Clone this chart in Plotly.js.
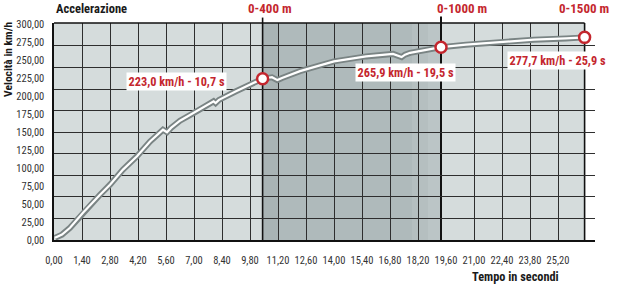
<!DOCTYPE html>
<html>
<head>
<meta charset="utf-8">
<script src="https://cdn.plot.ly/plotly-3.0.1.min.js"></script>
<style>html,body{margin:0;padding:0;background:#fff;}#chart{width:630px;height:297px;}</style>
</head>
<body>
<div id="chart"></div>
<script>
// ---- data ----
const timeS = [0.05,0.4,0.8,1.45,2.3,2.8,3.45,4.15,4.8,5.45,5.65,5.85,6.3,7.0,7.8,7.98,8.08,8.25,9.1,9.8,10.43,10.9,11.17,11.4,12.3,13.3,14.0,15.6,16.95,17.38,17.55,17.8,19.35,20.6,22.3,24.0,25.6,26.53];
const speedKmh = [3,7.5,17,38,63,77,98,116.5,137,153.5,150,156,166,177,190.5,193,190.5,195,207,216,224.5,226.5,222.5,225.5,235,243,248.6,255.5,259,254.5,258,260.5,268.3,271.8,275.6,278.8,280.5,282];
const markTime = [10.43, 19.35, 26.53];
const markSpeed = [224.5, 268.3, 282];
const markLabels = ["223,0 km/h - 10,7 s", "265,9 km/h - 19,5 s", "277,7 km/h - 25,9 s"];
const distLabels = ["0-400 m", "0-1000 m", "0-1500 m"];
const xTicks = [0,1.4,2.8,4.2,5.6,7.0,8.4,9.8,11.2,12.6,14.0,15.4,16.8,18.2,19.6,21.0,22.4,23.8,25.2];
const yTicks = [0,25,50,75,100,125,150,175,200,225,250,275,300];
const xGrid = [1.4,2.8,4.2,5.6,7.0,8.4,9.8,11.2,12.6,14.0,15.4,16.8,18.2,21.0,22.4,23.8,25.2];
const yGrid = [30,60,90,120,150,180,210,240,270];

const RED = '#c4262e';
const FONT = '"Roboto Condensed", "Liberation Sans Narrow", "DejaVu Sans Condensed", sans-serif';
const xRange = [0, 27.05];
const yRange = [0, 302];

const traces = [
  {x: [], y: [], xaxis: 'x2', yaxis: 'y2', type: 'scatter', mode: 'lines', showlegend: false, hoverinfo: 'skip'},
  {x: timeS, y: speedKmh, type: 'scatter', mode: 'lines', line: {color: '#7a8484', width: 6}, showlegend: false, hoverinfo: 'skip'},
  {x: timeS, y: speedKmh, type: 'scatter', mode: 'lines', line: {color: '#ffffff', width: 2.2}, showlegend: false, hoverinfo: 'skip'},
  {x: markTime, y: markSpeed, type: 'scatter', mode: 'markers',
   marker: {symbol: 'circle', size: 11, color: '#ffffff', line: {color: RED, width: 2.5}}, showlegend: false, hoverinfo: 'skip'}
];

const shapes = [
  {type: 'rect', layer: 'below', xref: 'x', yref: 'paper', x0: 0, x1: markTime[2], y0: 0, y1: 1, fillcolor: '#d5dcdc', line: {width: 0}},
  {type: 'rect', layer: 'below', xref: 'x', yref: 'paper', x0: markTime[0], x1: 11.2, y0: 0, y1: 1, fillcolor: '#a9b4b5', line: {width: 0}},
  {type: 'rect', layer: 'below', xref: 'x', yref: 'paper', x0: 11.2, x1: 17.9, y0: 0, y1: 1, fillcolor: '#afbabb', line: {width: 0}},
  {type: 'rect', layer: 'below', xref: 'x', yref: 'paper', x0: 17.9, x1: 18.7, y0: 0, y1: 1, fillcolor: '#b5bfc0', line: {width: 0}},
  {type: 'rect', layer: 'below', xref: 'x', yref: 'paper', x0: 18.7, x1: markTime[1], y0: 0, y1: 1, fillcolor: '#bbc5c6', line: {width: 0}},
  {type: 'line', layer: 'above', xref: 'x', yref: 'paper', x0: 0, x1: markTime[2], y0: 1, y1: 1, line: {color: '#111', width: 1.5}},
  {type: 'line', layer: 'between', xref: 'x', yref: 'paper', x0: markTime[0], x1: markTime[0], y0: 0, y1: 1.025, line: {color: '#111', width: 1.6}},
  {type: 'line', layer: 'between', xref: 'x', yref: 'paper', x0: markTime[1], x1: markTime[1], y0: 0, y1: 1.03, line: {color: '#111', width: 2}},
  {type: 'line', layer: 'between', xref: 'x', yref: 'paper', x0: markTime[2], x1: markTime[2], y0: 0, y1: 1, line: {color: '#111', width: 1.6}}
];

const annotations = [
  {text: '<b>Accelerazione</b>', xref: 'paper', yref: 'paper', x: 0, y: 1.066, xanchor: 'left', yanchor: 'middle', showarrow: false, font: {family: FONT, size: 12.5, color: '#1a1a1a'}},
  {text: '<b>' + distLabels[0] + '</b>', xref: 'x', yref: 'paper', x: 10.78, y: 1.066, xanchor: 'center', yanchor: 'middle', showarrow: false, font: {family: FONT, size: 13, color: RED}},
  {text: '<b>' + distLabels[1] + '</b>', xref: 'x', yref: 'paper', x: 20.38, y: 1.066, xanchor: 'center', yanchor: 'middle', showarrow: false, font: {family: FONT, size: 13, color: RED}},
  {text: '<b>' + distLabels[2] + '</b>', xref: 'x', yref: 'paper', x: 26.48, y: 1.066, xanchor: 'center', yanchor: 'middle', showarrow: false, font: {family: FONT, size: 13, color: RED}},
  {text: '<b>Velocità in km/h</b>', xref: 'paper', yref: 'paper', x: -0.085, y: 0.83, xanchor: 'center', yanchor: 'middle', textangle: -90, showarrow: false, font: {family: FONT, size: 11.5, color: '#1a1a1a'}},
  {text: '<b>Tempo in secondi</b>', xref: 'paper', yref: 'paper', x: 0.853, y: -0.169, xanchor: 'center', yanchor: 'middle', showarrow: false, font: {family: FONT, size: 12.3, color: '#1a1a1a'}},
  {text: '<b>' + markLabels[0] + '</b>', xref: 'x', yref: 'y', x: 6.1, y: 220.5, xanchor: 'center', yanchor: 'middle', showarrow: false, bgcolor: '#ffffff', borderpad: 1.5, font: {family: FONT, size: 12.3, color: RED}},
  {text: '<b>' + markLabels[1] + '</b>', xref: 'x', yref: 'y', x: 17.59, y: 233.1, xanchor: 'center', yanchor: 'middle', showarrow: false, bgcolor: '#ffffff', borderpad: 1.5, font: {family: FONT, size: 12.3, color: RED}},
  {text: '<b>' + markLabels[2] + '</b>', xref: 'x', yref: 'y', x: 25.18, y: 250.5, xanchor: 'center', yanchor: 'middle', showarrow: false, bgcolor: '#ffffff', borderpad: 1.5, font: {family: FONT, size: 12.3, color: RED}}
];

const layout = {
  width: 630, height: 297,
  margin: {l: 54, r: 35, t: 23, b: 57, pad: 0},
  paper_bgcolor: '#ffffff', plot_bgcolor: 'rgba(0,0,0,0)',
  separators: ',.',
  showlegend: false,
  font: {family: FONT, size: 10.5, color: '#333'},
  xaxis: {range: xRange, tickvals: xTicks, tickformat: '.2f', showgrid: false, zeroline: false,
          showline: true, linecolor: '#111', linewidth: 1.6, ticks: '', ticklabelstandoff: 10, tickangle: 0,
          tickfont: {family: FONT, size: 10.5, color: '#333'}, fixedrange: true},
  yaxis: {range: yRange, tickvals: yTicks, tickformat: '.2f', showgrid: false, zeroline: false,
          showline: true, linecolor: '#111', linewidth: 1.6, ticks: '', ticklabelstandoff: 6,
          tickfont: {family: FONT, size: 10.5, color: '#333'}, fixedrange: true},
  xaxis2: {range: xRange, overlaying: 'x', anchor: 'y', tickvals: xGrid, showgrid: true, gridcolor: '#2e2e2e', gridwidth: 1,
           showticklabels: false, zeroline: false, showline: false, ticks: ''},
  yaxis2: {range: yRange, overlaying: 'y', anchor: 'x', tickvals: yGrid, showgrid: true, gridcolor: '#2e2e2e', gridwidth: 1,
           showticklabels: false, zeroline: false, showline: false, ticks: ''},
  shapes: shapes,
  annotations: annotations
};

Plotly.newPlot('chart', traces, layout, {staticPlot: true, displayModeBar: false});
</script>
</body>
</html>
